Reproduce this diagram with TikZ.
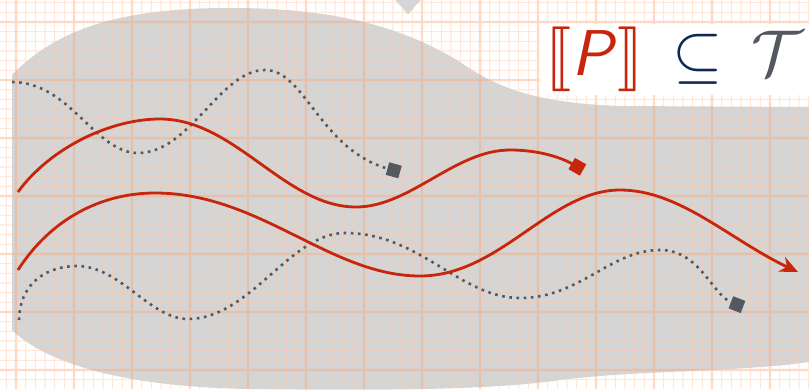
\documentclass[tikz,border=0pt]{standalone}
\usepackage{fontspec}
\usepackage{amssymb}
\usepackage{stmaryrd}
\usetikzlibrary{arrows.meta, shadows}

\definecolor{tracered}{RGB}{200,38,12}
\definecolor{specgray}{RGB}{84,89,97}
\definecolor{subnavy}{RGB}{14,40,84}
\definecolor{blobgray}{RGB}{213,213,213}
\definecolor{gridminor}{RGB}{255,200,165}
\definecolor{gridmajor}{RGB}{255,165,110}
\definecolor{tipgray}{RGB}{214,214,218}

\begin{document}
\begin{tikzpicture}[
      x=1bp, y=-1bp,
      minorline/.style = {draw=gridminor, line width=1.1bp},
      majorline/.style = {draw=gridmajor, line width=2.2bp},
      blob/.style = {fill=blobgray},
      trace/.style = {draw=tracered, line width=2.8bp},
      spec/.style = {draw=specgray, line width=2.6bp, dash pattern=on 2.6bp off 4.6bp},
      sqtip/.style = {-{Square[length=13bp, width=13bp]}},
      arrowtip/.style = {-{Stealth[length=18bp, width=16bp]}},
      formulabox/.style = {fill=white, inner sep=0pt, minimum width=269bp, minimum height=71bp}
    ]
      \useasboundingbox (0,0) rectangle (809,389);
      \fill[white] (0,0) rectangle (809,389);

      % --- region of allowed traces ---
      \fill[blob] (12,75) .. controls (60,25) and (130,8) .. (230,8)
        .. controls (330,8) and (400,25) .. (460,62)
        .. controls (500,90) and (540,103) .. (620,106) -- (809,107) -- (809,362)
        .. controls (740,372) and (640,370) .. (560,380)
        .. controls (500,389) and (400,391) .. (250,389)
        .. controls (120,387) and (45,362) .. (12,330) -- cycle;

      % --- graph paper ---
      \begin{scope}[transparency group, opacity=0.42]
        \foreach \k in {-1,...,82}
          \draw[minorline] ({16+9.6667*\k},0) -- ({16+9.6667*\k},389);
        \foreach \k in {-2,...,37}
          \draw[minorline] (0,{22+9.6667*\k}) -- (809,{22+9.6667*\k});
        \foreach \k in {0,...,13}
          \draw[majorline] ({16+58*\k},0) -- ({16+58*\k},389);
        \foreach \k in {0,...,6}
          \draw[majorline] (0,{22+58*\k}) -- (809,{22+58*\k});
      \end{scope}

      % --- specification traces (dotted) ---
      \draw[spec, sqtip] (12,82) .. controls (70,82) and (95,153) .. (138,153)
        .. controls (190,153) and (220,70) .. (265,70)
        .. controls (305,70) and (320,150) .. (400,172);
      \draw[spec, sqtip] (19,320) .. controls (20,280) and (50,266) .. (77,266)
        .. controls (120,266) and (150,319) .. (188,319)
        .. controls (250,319) and (290,233) .. (345,233)
        .. controls (420,233) and (460,298) .. (520,298)
        .. controls (580,298) and (610,250) .. (660,250)
        .. controls (700,250) and (712,295) .. (743,307);

      % --- program traces (red) ---
      \draw[trace, sqtip] (18,192) .. controls (50,148) and (110,119) .. (160,119)
        .. controls (235,119) and (285,207) .. (356,207)
        .. controls (410,207) and (455,150) .. (510,150)
        .. controls (540,150) and (562,158) .. (583,170);
      \draw[trace, arrowtip] (18,270) .. controls (50,220) and (100,193) .. (155,193)
        .. controls (260,193) and (330,276) .. (420,276)
        .. controls (500,276) and (550,190) .. (620,190)
        .. controls (680,190) and (730,240) .. (798,272);

      % --- marker at the top ---
      \fill[tipgray, drop shadow={shadow xshift=0bp, shadow yshift=-1.5bp, opacity=0.25}]
        (393,-4) -- (423,-4) -- (408,13) -- cycle;

      % --- formula ---
      \node[formulabox, anchor=north east] (formula) at (809,24)
        {\scalebox{6.5}{$\textcolor{tracered}{\llbracket\textsf{\textit{P}}\rrbracket}
          \mathrel{\mkern3mu\textcolor{subnavy}{\subseteq}\mkern3mu}
          \textcolor{specgray}{\mathcal{T}}$}};
    \end{tikzpicture}
\end{document}
